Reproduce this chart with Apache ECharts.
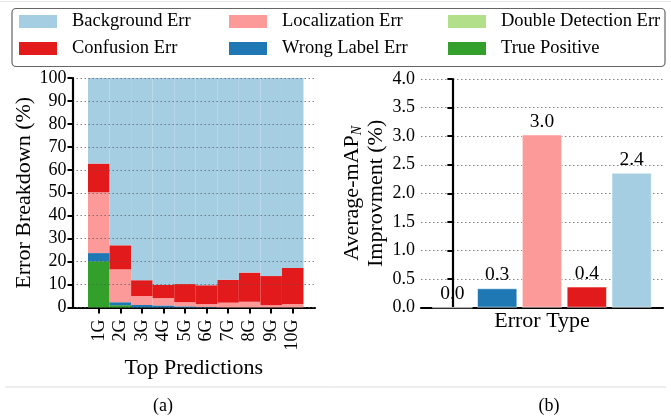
<!DOCTYPE html>
<html>
<head>
<meta charset="utf-8">
<script src="https://cdn.jsdelivr.net/npm/echarts@6/dist/echarts.min.js"></script>
<style>
  html, body { margin: 0; padding: 0; background: #fff; }
  #chart { width: 671px; height: 416px; }
</style>
</head>
<body>
<div id="chart"></div>
<script>
// (a) error breakdown of the top predictions, stacked to 100 %
const categories = ['1G', '2G', '3G', '4G', '5G', '6G', '7G', '8G', '9G', '10G'];
const truePositive    = [20.1, 1.0, 0, 0, 0, 0, 0, 0, 0, 0];
const doubleDetection = [0, 0, 0, 0, 0, 0, 0, 0, 0, 0];
const wrongLabel      = [3.6, 1.3, 1.1, 0.9, 0.5, 0.2, 0, 0, 0, 0];
const localization    = [26.5, 14.3, 3.9, 3.2, 1.8, 1.3, 2.1, 2.5, 1.0, 1.5];
const confusion       = [12.5, 10.5, 6.9, 5.7, 7.9, 8.2, 10.0, 12.7, 12.7, 15.7];
const background      = [37.3, 72.9, 88.1, 90.2, 89.8, 90.3, 87.9, 84.8, 86.3, 82.8];
const breakdownTicks  = [0, 10, 20, 30, 40, 50, 60, 70, 80, 90, 100];

// (b) average-mAP improvement when each error type is fixed
const errorTypes  = ['Double Detection Err', 'Wrong Label Err', 'Localization Err', 'Confusion Err', 'Background Err'];
const improvement = [0.0, 0.34, 3.03, 0.37, 2.36];
const improvementTicks = [0, 0.5, 1.0, 1.5, 2.0, 2.5, 3.0, 3.5, 4.0];

const colors = {
  'Background Err': '#a6cee3',
  'Localization Err': '#fb9a99',
  'Double Detection Err': '#b2df8a',
  'Confusion Err': '#e31a1c',
  'Wrong Label Err': '#1f78b4',
  'True Positive': '#33a02c'
};

const FONT = 'Liberation Serif';
const chart = echarts.init(document.getElementById('chart'), null, { renderer: 'canvas' });

const stackOrder = [
  ['True Positive', truePositive],
  ['Double Detection Err', doubleDetection],
  ['Wrong Label Err', wrongLabel],
  ['Localization Err', localization],
  ['Confusion Err', confusion],
  ['Background Err', background]
];

// stacked bars live in grid 1 (the bar band area of panel a)
const stackSeries = stackOrder.map(([name, values]) => ({
  name: name,
  type: 'bar',
  stack: 'breakdown',
  xAxisIndex: 1,
  yAxisIndex: 1,
  barWidth: '100%',
  itemStyle: { color: colors[name] },
  data: values
}));

// one legend block per entry, laid out in a 3 x 2 table
const legendCells = [
  ['Background Err', 19, 12],
  ['Localization Err', 229, 12],
  ['Double Detection Err', 448, 12],
  ['Confusion Err', 19, 39],
  ['Wrong Label Err', 229, 39],
  ['True Positive', 448, 39]
];
const legends = legendCells.map(([name, left, top]) => ({
  data: [name],
  left: left,
  top: top,
  padding: 0,
  icon: 'rect',
  itemWidth: 38,
  itemHeight: 13,
  selectedMode: false,
  textStyle: { fontFamily: FONT, fontSize: 18.5, color: '#000', padding: [0, 0, 0, 10] }
}));

const axisLine = { show: true, lineStyle: { color: '#000', width: 2.2 } };
const gridLine = { show: true, lineStyle: { color: 'rgba(90,90,90,0.75)', width: 1, type: [1.5, 2.5] } };
const nameStyle = { fontFamily: FONT, fontSize: 22, color: '#000' };

const option = {
  animation: false,
  backgroundColor: '#fff',
  legend: legends,
  grid: [
    { left: 72.5, right: 356, top: 78, bottom: 108.5 },   // panel a: frame, y axis, grid lines
    { left: 88, right: 367.5, top: 78, bottom: 108.5 },   // panel a: bar band area
    { left: 421, right: 8, top: 79, bottom: 108.3 }       // panel b
  ],
  xAxis: [
    {
      type: 'value', gridIndex: 0, min: 0, max: 1,
      axisLine: axisLine, axisTick: { show: false }, axisLabel: { show: false }, splitLine: { show: false },
      name: 'Top Predictions', nameLocation: 'middle', nameGap: 50, nameTextStyle: nameStyle
    },
    {
      type: 'category', gridIndex: 1, data: categories, boundaryGap: true,
      axisLine: { show: false },
      axisTick: { show: true, alignWithLabel: true, length: 6, lineStyle: { color: '#000', width: 2 } },
      axisLabel: { rotate: 90, margin: 12, fontFamily: FONT, fontSize: 18, color: '#000', interval: 0 },
      splitLine: { show: false }
    },
    {
      type: 'value', gridIndex: 2, min: -0.7, max: 4.7,
      axisLine: axisLine, axisTick: { show: false }, axisLabel: { show: false }, splitLine: { show: false },
      name: 'Error Type', nameLocation: 'middle', nameGap: 3, nameTextStyle: nameStyle
    }
  ],
  yAxis: [
    {
      // drawn above the stacked bars so the dotted grid stays visible
      type: 'value', gridIndex: 0, min: breakdownTicks[0], max: breakdownTicks[breakdownTicks.length - 1], interval: 10,
      z: 3,
      axisLine: axisLine,
      axisTick: { show: true, length: 5, lineStyle: { color: '#000', width: 2 } },
      axisLabel: { margin: 6, fontFamily: FONT, fontSize: 18, color: '#000' },
      splitLine: gridLine,
      name: 'Error Breakdown (%)', nameLocation: 'middle', nameRotate: 90, nameGap: 36, nameTextStyle: nameStyle
    },
    {
      type: 'value', gridIndex: 1, min: breakdownTicks[0], max: breakdownTicks[breakdownTicks.length - 1],
      show: false
    },
    {
      type: 'value', gridIndex: 2, min: improvementTicks[0], max: improvementTicks[improvementTicks.length - 1], interval: 0.5,
      axisLine: axisLine,
      axisTick: { show: true, length: 5, lineStyle: { color: '#000', width: 2 } },
      axisLabel: { margin: 6, fontFamily: FONT, fontSize: 18, color: '#000', formatter: v => v.toFixed(1) },
      splitLine: gridLine,
      name: 'Average-mAP{sub|N}\nImprovment (%)', nameLocation: 'middle', nameRotate: 90, nameGap: 26,
      nameTextStyle: {
        fontFamily: FONT, fontSize: 22, lineHeight: 24, color: '#000', align: 'center',
        rich: { sub: { fontFamily: FONT, fontSize: 14, fontStyle: 'italic', color: '#000', verticalAlign: 'bottom', lineHeight: 8 } }
      }
    }
  ],
  series: stackSeries.concat([
    {
      name: 'Average-mAP Improvement',
      type: 'bar',
      xAxisIndex: 2,
      yAxisIndex: 2,
      barWidth: '90%',
      data: improvement.map((v, i) => ({
        value: [i, v],
        itemStyle: { color: colors[errorTypes[i]], borderColor: 'rgba(255,255,255,0.55)', borderWidth: 1 }
      })),
      label: {
        show: true, position: 'top', distance: 3,
        fontFamily: FONT, fontSize: 19.5, color: '#000',
        formatter: p => p.value[1].toFixed(1)
      }
    }
  ]),
  graphic: [
    { type: 'line', shape: { x1: 0, y1: 1.5, x2: 671, y2: 1.5 }, style: { stroke: '#e8e8e8', lineWidth: 1 }, silent: true },
    { type: 'rect', shape: { x: 12, y: 8.5, width: 653, height: 58, r: 4 }, style: { fill: '#fff', stroke: '#666', lineWidth: 1.2 }, z: -1, silent: true },
    { type: 'line', shape: { x1: 5, y1: 387, x2: 666, y2: 387 }, style: { stroke: '#dcdcdc', lineWidth: 1 }, silent: true },
    { type: 'text', x: 163, y: 406, style: { text: '(a)', fontFamily: FONT, fontSize: 18, fill: '#000', align: 'center', verticalAlign: 'middle' }, silent: true },
    { type: 'text', x: 549, y: 406, style: { text: '(b)', fontFamily: FONT, fontSize: 18, fill: '#000', align: 'center', verticalAlign: 'middle' }, silent: true }
  ]
};

chart.setOption(option);
</script>
</body>
</html>
